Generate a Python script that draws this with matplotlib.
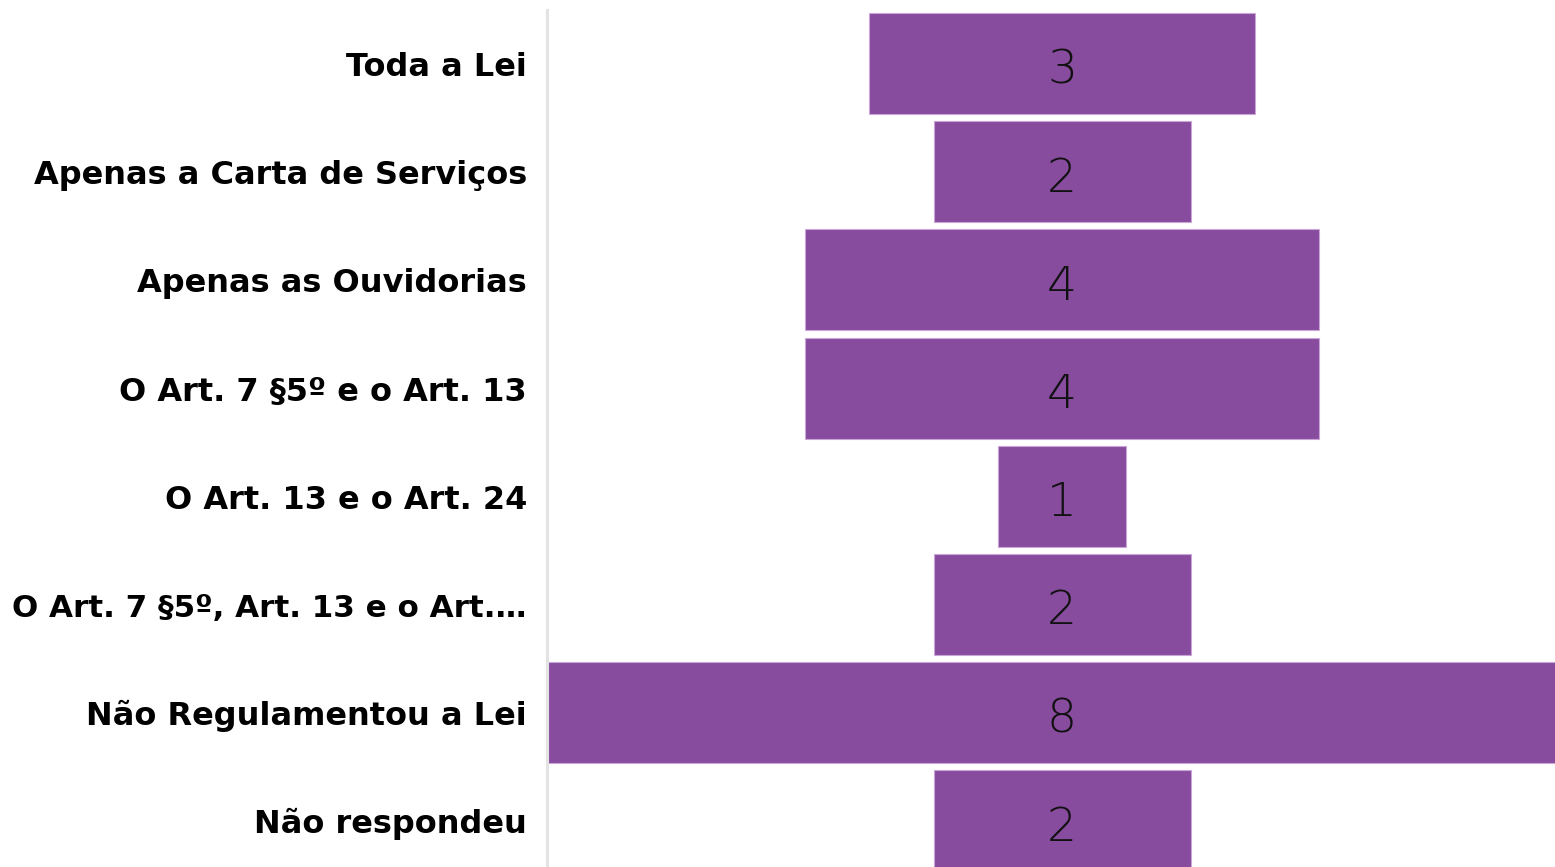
import matplotlib
matplotlib.use("Agg")
import matplotlib.pyplot as plt

categories = ["Toda a Lei", "Apenas a Carta de Serviços", "Apenas as Ouvidorias",
              "O Art. 7 §5º e o Art. 13", "O Art. 13 e o Art. 24",
              "O Art. 7 §5º, Art. 13 e o Art.…", "Não Regulamentou a Lei", "Não respondeu"]
values = [3, 2, 4, 4, 1, 2, 8, 2]

W, H = 1555, 867
fig = plt.figure(figsize=(W / 100, H / 100), dpi=100)
fig.patch.set_facecolor("white")

ax_left = 548 / W
ax = fig.add_axes([ax_left, 0, 1 - ax_left, 1])
ax.set_facecolor("none")

unit = 128.5  # px per unit
center_px = 1062
row = 108.2
top_center = 63.5

xmin = -(center_px - 548) / unit
xmax = (W - center_px) / unit
ax.set_xlim(xmin, xmax)
ax.set_ylim((H - top_center) / row, -top_center / row)

y = list(range(len(values)))
lefts = [-v / 2 for v in values]
ax.barh(y, values, left=lefts, height=101 / row, color="#884C9E",
        edgecolor="#C9A6D6", linewidth=0.8)

for yi, v in zip(y, values):
    ypx = top_center + yi * row + 20
    fig.text(center_px / W, 1 - ypx / H, str(v), ha="center", va="baseline",
             fontsize=34, family="DejaVu Sans", fontweight="light", color="#111111")

ax.set_xticks([])
ax.set_yticks([])
for s in ax.spines.values():
    s.set_visible(False)

# axis line
fig.add_artist(plt.Line2D([547 / W, 547 / W], [0, 1 - 10 / H], color="#e3e3e3", lw=2.2))

renderer = fig.canvas.get_renderer()
max_w = 527 - 12
for yi, c in zip(y, categories):
    ypx = top_center + yi * row + 12.5
    t = fig.text(527 / W, 1 - ypx / H, c, ha="right", va="baseline", fontsize=23,
                 family="DejaVu Sans", fontweight="bold", color="black")
    w = t.get_window_extent(renderer).width
    if w > max_w:
        t.set_fontsize(23 * max_w / w)

fig.savefig("out.png", dpi=100)
